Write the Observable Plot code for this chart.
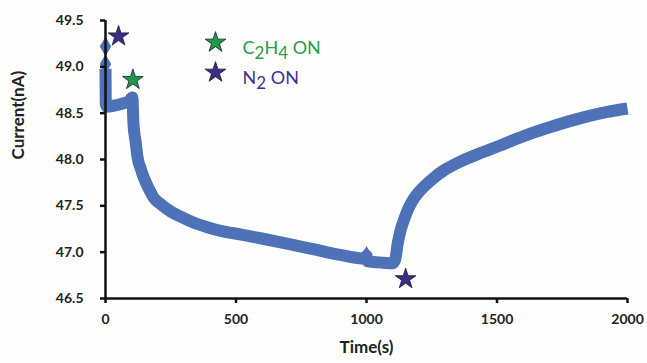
<!DOCTYPE html>
<html>
<head>
<meta charset="utf-8">
<script src="https://cdn.jsdelivr.net/npm/d3@7"></script>
<script src="https://cdn.jsdelivr.net/npm/@observablehq/plot@0.6"></script>
<style>
  html, body { margin: 0; padding: 0; background: #fefefc; }
  #chart svg { display: block; }
</style>
</head>
<body>
<div id="chart"></div>
<script>
// Main current trace (time in s, current in nA)
const times = [0, 1, 5, 30, 60, 90, 103, 107, 115, 123, 135, 146, 165, 184, 215, 249, 290, 337, 390, 441, 520, 594, 700, 800, 900, 995, 1000, 1005, 1050, 1100, 1110, 1120, 1130, 1145, 1157, 1175, 1195, 1225, 1257, 1295, 1333, 1385, 1437, 1502, 1600, 1705, 1800, 1900, 2000];
const currents = [48.98, 48.6, 48.57, 48.58, 48.6, 48.63, 48.67, 48.39, 48.2, 48.02, 47.9, 47.81, 47.69, 47.59, 47.51, 47.44, 47.38, 47.32, 47.27, 47.23, 47.19, 47.15, 47.09, 47.03, 46.97, 46.93, 46.96, 46.9, 46.89, 46.88, 46.92, 47.1, 47.23, 47.36, 47.45, 47.55, 47.63, 47.72, 47.8, 47.88, 47.94, 48.01, 48.07, 48.14, 48.25, 48.35, 48.43, 48.5, 48.55];
// Isolated diamond markers
const spikeTimes = [0, 0, 1000];
const spikeCurrents = [49.22, 49.03, 46.96];
// Gas switching events (stars)
const eventTimes = [50, 105, 1150];
const eventCurrents = [49.33, 48.86, 46.71];
const eventGas = ["N2", "C2H4", "N2"];
// Legend
const legendLabels = ["C2H4 ON", "N2 ON"];
const legendGas = ["C2H4", "N2"];
// Ticks
const xTicks = [0, 500, 1000, 1500, 2000];
const yTicks = [46.5, 47.0, 47.5, 48.0, 48.5, 49.0, 49.5];

const starFill = {C2H4: "#1c9a4c", N2: "#3b2b8a"};
const textFill = {C2H4: "#22a04e", N2: "#3d3390"};
const lineColor = "#4d72b8";

const trace = times.map((t, i) => ({t, c: currents[i]}));
const spikes = spikeTimes.map((t, i) => ({t, c: spikeCurrents[i]}));
const events = eventTimes.map((t, i) => ({t, c: eventCurrents[i], gas: eventGas[i]}));
const legend = legendLabels.map((label, i) => ({label, gas: legendGas[i]}));
const rowDy = [23, 53];

const font = "Lato, 'Open Sans', sans-serif";

const legendMarks = legend.flatMap((d, i) => [
  Plot.dot([d], {frameAnchor: "top-left", dx: 110, dy: rowDy[i] - 1, symbol: "star", r: 6.5, fill: starFill[d.gas], stroke: "#1a1a2a", strokeWidth: 0.8}),
  Plot.text([d], {frameAnchor: "top-left", dx: 137, dy: rowDy[i] - 2, text: "label", textAnchor: "start", fontSize: 18, fill: textFill[d.gas], className: "legend-text"})
]);

const chart = Plot.plot({
  width: 647,
  height: 363,
  marginLeft: 105,
  marginRight: 20,
  marginTop: 20,
  marginBottom: 65,
  style: {background: "#fefefc", fontFamily: font},
  x: {domain: [0, 2000], ticks: xTicks},
  y: {domain: [46.5, 49.5], ticks: yTicks},
  marks: [
    Plot.line(trace, {x: "t", y: "c", stroke: lineColor, strokeWidth: 12, strokeLinejoin: "round", strokeLinecap: "butt", curve: "monotone-x"}),
    Plot.dot(spikes, {x: "t", y: "c", symbol: "diamond", r: 6, fill: lineColor}),
    Plot.ruleX([0], {y1: 46.5, y2: 49.5, stroke: "#111", strokeWidth: 2.5}),
    Plot.ruleY([46.5], {x1: 0, x2: 2000, stroke: "#111", strokeWidth: 2.5}),
    Plot.axisX({ticks: xTicks, tickSize: 5, tickPadding: 11, strokeWidth: 2.5, stroke: "#111", fontSize: 14, fontWeight: "bold", fill: "#222", label: null, tickFormat: d => String(d)}),
    Plot.axisY({ticks: yTicks, tickSize: 5, tickPadding: 17, strokeWidth: 2.5, stroke: "#111", fontSize: 14, fontWeight: "bold", fill: "#222", label: null, tickFormat: d => d.toFixed(1)}),
    Plot.text(["Current(nA)"], {frameAnchor: "left", dx: -87, rotate: -90, fontSize: 17, fontWeight: "bold", fill: "#222", text: d => d}),
    Plot.text(["Time(s)"], {frameAnchor: "bottom", dy: 54, fontSize: 17, fontWeight: "bold", fill: "#222", text: d => d}),
    Plot.dot(events, {x: "t", y: "c", symbol: "star", r: 6.5, fill: d => starFill[d.gas], stroke: "#1a1a2a", strokeWidth: 0.8}),
    ...legendMarks
  ]
});

document.getElementById("chart").appendChild(chart);

// Render digits in the legend labels as subscripts
d3.select(chart).selectAll(".legend-text text").each(function() {
  const el = d3.select(this);
  const s = el.text();
  el.text(null);
  let shifted = false;
  for (const part of s.match(/\d+|\D+/g)) {
    if (/\d/.test(part)) {
      el.append("tspan").attr("font-size", "17").attr("dy", shifted ? null : "0.3em").text(part);
      shifted = true;
    } else {
      const t = el.append("tspan").text(part);
      if (shifted) { t.attr("dy", "-0.3em"); shifted = false; }
    }
  }
});
</script>
</body>
</html>
